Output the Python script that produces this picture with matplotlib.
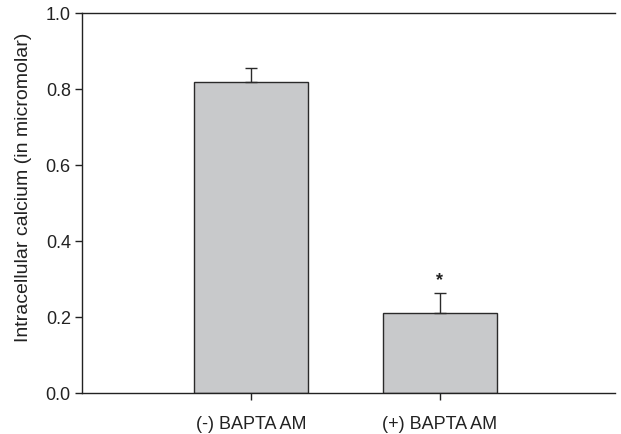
import matplotlib.pyplot as plt

groups = ['(-) BAPTA AM', '(+) BAPTA AM']
calcium = [0.818, 0.21]
calcium_err = [0.037, 0.054]

plt.rcParams['font.family'] = ['Liberation Sans', 'DejaVu Sans']

fig = plt.figure(figsize=(6.21, 4.35), dpi=100)
ax = fig.add_axes([0.132, 0.0943, 0.858, 0.8737])

pos = [1, 2]
ax.bar(pos, calcium, width=0.6, color='#c8c9cb', edgecolor='#2a2a2a', linewidth=1.0, zorder=2)
ax.errorbar(pos, calcium, yerr=[[0, 0], calcium_err], fmt='none', ecolor='#2a2a2a',
            elinewidth=1.0, capsize=4.5, capthick=1.0, zorder=3)

# significance mark above the second bar
ax.text(pos[1], calcium[1] + calcium_err[1] + 0.012, '*', ha='center', va='bottom',
        fontsize=13, fontweight='bold', color='#222222')

ax.set_xlim(0.106, 2.926)
ax.set_ylim(0, 1.0)
ax.set_xticks(pos)
ax.set_xticklabels(groups)
ax.set_yticks([0.0, 0.2, 0.4, 0.6, 0.8, 1.0])
ax.set_yticklabels(['0.0', '0.2', '0.4', '0.6', '0.8', '1.0'])
ax.set_ylabel('Intracellular calcium (in micromolar)', fontsize=14, color='#222222')
ax.yaxis.set_label_coords(-0.094, 0.545)

ax.spines['right'].set_visible(False)
for s in ['left', 'bottom', 'top']:
    ax.spines[s].set_color('#222222')
    ax.spines[s].set_linewidth(1.0)
ax.tick_params(axis='both', direction='out', length=5, width=1.0, color='#222222',
               labelsize=13, labelcolor='#222222')
ax.tick_params(axis='y', pad=3)
ax.tick_params(axis='x', pad=11)

fig.savefig('out.png', dpi=100)
